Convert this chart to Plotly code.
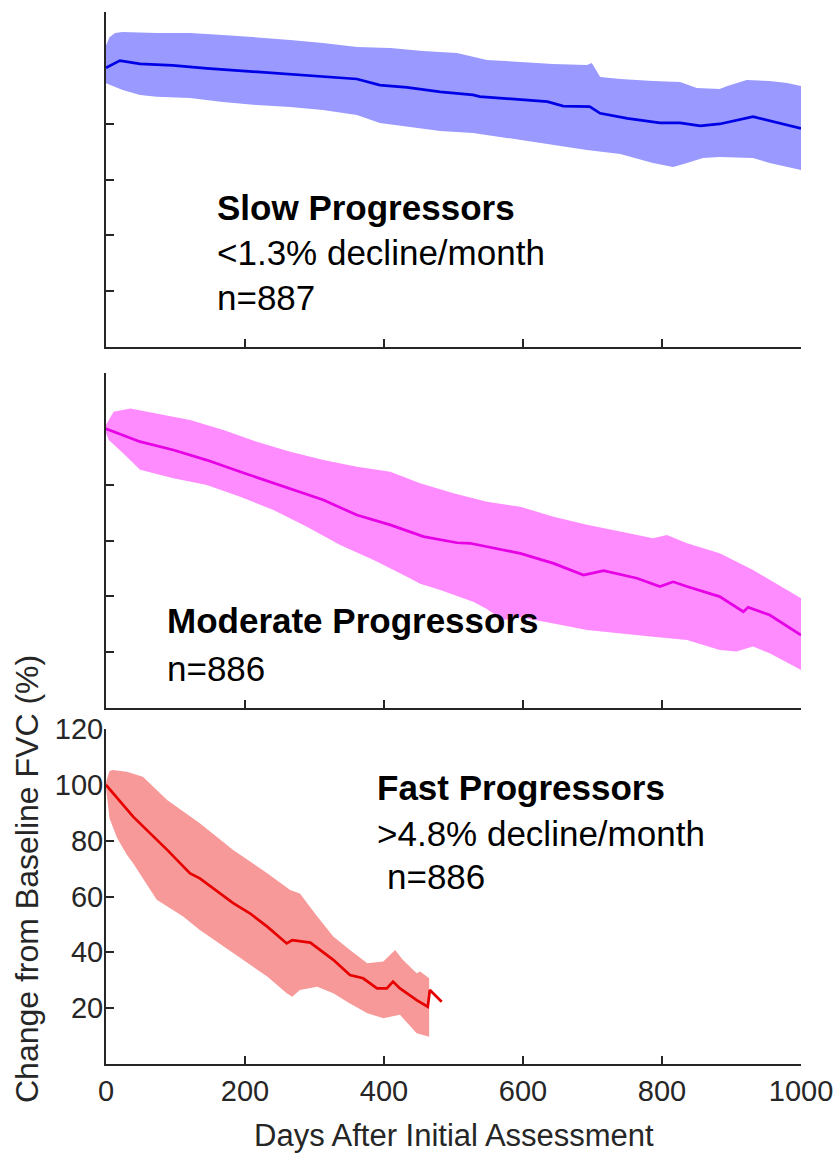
import plotly.graph_objects as go

# ---- axis ticks -------------------------------------------------------------
DAY_TICKS = [0, 200, 400, 600, 800, 1000]
FVC_TICKS = [20, 40, 60, 80, 100, 120]

# ---- Slow progressors (n=887): mean and spread of % baseline FVC ---------------
slow_mean_days = [0, 20, 49, 96, 145, 193, 240, 289, 361, 394, 433, 481, 528, 538,
                  596, 635, 658, 696, 711, 750, 797, 826, 855, 883, 931, 955, 1000]
slow_mean = [100.0, 102.6, 101.4, 100.9, 99.8, 98.9, 98.0, 97.1, 96.0, 93.8, 93.0,
             91.4, 90.3, 89.7, 88.5, 87.9, 86.3, 86.1, 83.7, 81.9, 80.3, 80.3, 79.2,
             79.9, 82.5, 81.1, 78.3]
slow_upper_days = [0, 5, 13, 24, 73, 121, 168, 217, 265, 312, 361, 409, 456, 505,
                   548, 596, 643, 692, 699, 711, 740, 787, 826, 850, 883, 894, 922,
                   955, 980, 1000]
slow_upper = [108.0, 111.0, 112.5, 112.8, 112.5, 112.5, 111.8, 111.0, 110.0, 108.9,
              107.5, 107.1, 106.0, 105.3, 102.8, 102.1, 101.4, 101.0, 101.7, 96.7,
              96.0, 95.3, 94.9, 92.8, 92.4, 93.5, 95.6, 95.3, 94.6, 93.5]
slow_lower_days = [0, 24, 49, 73, 121, 168, 217, 265, 312, 361, 394, 433, 481, 528,
                   548, 596, 643, 692, 740, 787, 816, 836, 859, 883, 931, 955, 1000]
slow_lower = [94.5, 92.1, 90.3, 89.6, 89.2, 87.8, 86.7, 86.0, 84.9, 83.1, 80.2, 78.8,
              77.4, 76.7, 75.9, 74.1, 72.4, 70.6, 69.1, 65.9, 64.5, 65.9, 67.7, 68.1,
              67.7, 65.9, 63.4]

# ---- Moderate progressors (n=886) ------------------------------------------------
mod_mean_days = [0, 49, 97, 145, 193, 241, 274, 313, 361, 409, 457, 505, 524, 596,
                 644, 687, 716, 764, 797, 816, 836, 883, 917, 924, 955, 1000]
mod_mean = [100.0, 95.4, 92.4, 88.8, 84.6, 80.5, 77.8, 74.5, 69.1, 65.6, 61.4, 59.2,
            59.0, 55.4, 51.8, 47.6, 49.2, 46.5, 43.5, 45.2, 43.5, 39.9, 34.5, 36.1,
            33.3, 26.1]
mod_upper_days = [0, 11, 35, 73, 121, 169, 217, 265, 313, 361, 409, 452, 500, 548,
                  596, 644, 692, 740, 787, 807, 836, 883, 931, 980, 1000]
mod_upper = [101.5, 106.1, 107.3, 105.6, 103.2, 99.6, 95.4, 91.8, 88.8, 86.4, 84.6,
             80.5, 76.9, 73.9, 72.1, 68.5, 65.6, 63.2, 60.8, 62.0, 59.0, 55.4, 49.4,
             42.3, 39.3]
mod_lower_days = [0, 4, 25, 49, 97, 145, 193, 241, 289, 337, 385, 433, 452, 481, 500,
                  529, 548, 571, 596, 644, 692, 740, 787, 836, 883, 907, 931, 955, 1000]
mod_lower = [98.5, 96.0, 91.2, 85.3, 82.3, 79.9, 75.7, 70.9, 64.9, 58.4, 53.0, 47.0,
             44.5, 42.3, 40.5, 38.0, 35.5, 31.5, 32.5, 30.3, 27.9, 26.8, 25.5, 24.4,
             20.8, 20.2, 22.0, 19.6, 13.6]

# ---- Fast progressors (n=886) ------------------------------------------------------
fast_mean_days = [0, 39, 88, 121, 135, 183, 207, 232, 260, 268, 294, 327, 351, 370,
                  390, 404, 413, 423, 447, 463, 466, 483]
fast_mean = [100.0, 88.6, 76.7, 68.3, 66.5, 57.6, 54.0, 49.2, 43.2, 44.4, 43.5, 37.3,
             31.9, 30.7, 27.1, 27.1, 29.5, 27.1, 22.9, 20.5, 26.5, 22.3]
fast_upper_days = [0, 5, 10, 30, 53, 88, 135, 183, 232, 265, 279, 304, 327, 351, 376,
                   399, 416, 427, 447, 452, 465]
fast_upper = [101.0, 105.0, 105.3, 104.7, 102.9, 94.6, 86.2, 76.7, 68.3, 62.3, 61.1,
              52.8, 45.7, 40.8, 36.1, 36.7, 40.8, 37.3, 32.5, 33.1, 30.7]
fast_lower_days = [0, 5, 16, 30, 39, 73, 111, 135, 183, 232, 260, 268, 279, 304, 327,
                   351, 376, 399, 423, 447, 465]
fast_lower = [99.0, 88.0, 81.0, 75.0, 71.9, 58.8, 52.8, 48.0, 39.7, 31.3, 25.3, 24.1,
              26.5, 27.7, 25.3, 21.7, 18.2, 16.4, 17.6, 11.0, 9.8]

# ---- styling ----------------------------------------------------------------------
FONT = "Arial, 'Liberation Sans', Helvetica, sans-serif"
AXIS_COLOR = "#262626"
W, H = 837, 1159

X_DOMAIN = [106 / W, 801 / W]
Y_DOMAINS = [
    [1 - 347 / H, 1 - 12 / H],     # top panel
    [1 - 708 / H, 1 - 373 / H],    # middle panel
    [1 - 1064 / H, 1 - 729 / H],   # bottom panel
]

panels = [
    dict(md=slow_mean_days, m=slow_mean, ud=slow_upper_days, u=slow_upper,
         ld=slow_lower_days, l=slow_lower, line="#0000E6", band="#9999FF"),
    dict(md=mod_mean_days, m=mod_mean, ud=mod_upper_days, u=mod_upper,
         ld=mod_lower_days, l=mod_lower, line="#E600E6", band="#FF8CFF"),
    dict(md=fast_mean_days, m=fast_mean, ud=fast_upper_days, u=fast_upper,
         ld=fast_lower_days, l=fast_lower, line="#E60000", band="#F89999"),
]

fig = go.Figure()
for i, p in enumerate(panels, start=1):
    xa = "x" if i == 1 else f"x{i}"
    ya = "y" if i == 1 else f"y{i}"
    # shaded spread: upper edge left-to-right, lower edge back right-to-left
    fig.add_trace(go.Scatter(
        x=p["ud"] + p["ld"][::-1], y=p["u"] + p["l"][::-1],
        fill="toself", fillcolor=p["band"], line=dict(width=0),
        mode="lines", hoverinfo="skip", showlegend=False, xaxis=xa, yaxis=ya))
    fig.add_trace(go.Scatter(
        x=p["md"], y=p["m"], mode="lines", line=dict(color=p["line"], width=2.7),
        showlegend=False, xaxis=xa, yaxis=ya))

axis_common = dict(showline=True, linecolor=AXIS_COLOR, linewidth=2, ticks="inside",
                   ticklen=8, tickwidth=2, tickcolor=AXIS_COLOR, showgrid=False,
                   zeroline=False, mirror=False, layer="below traces",
                   automargin=False,
                   tickfont=dict(family=FONT, size=29, color=AXIS_COLOR))

layout = dict(width=W, height=H,
              margin=dict(l=0, r=0, t=0, b=0, pad=0, autoexpand=False),
              paper_bgcolor="white", plot_bgcolor="white", showlegend=False)
for i in range(1, 4):
    xk = "xaxis" if i == 1 else f"xaxis{i}"
    yk = "yaxis" if i == 1 else f"yaxis{i}"
    xa = "x" if i == 1 else f"x{i}"
    ya = "y" if i == 1 else f"y{i}"
    last = i == 3
    layout[xk] = dict(axis_common, domain=X_DOMAIN, range=[0, 1000], anchor=ya,
                      tickvals=DAY_TICKS if last else DAY_TICKS[1:],
                      showticklabels=last)
    layout[yk] = dict(axis_common, domain=Y_DOMAINS[i - 1], range=[0, 120], anchor=xa,
                      tickvals=FVC_TICKS, showticklabels=last,
                      ticklabelstandoff=-5)
fig.update_layout(**layout)

# ---- group labels ---------------------------------------------------------------------
def label(text, x, y, xref, yref, bold=False, size=35):
    fig.add_annotation(text=f"<b>{text}</b>" if bold else text, x=x, y=y,
                       xref=xref, yref=yref, xanchor="left", yanchor="middle",
                       showarrow=False, font=dict(family=FONT, size=size, color="black"))

label("Slow Progressors", 157, 50.1, "x", "y", bold=True)
label("&lt;1.3% decline/month", 157, 34.0, "x", "y")
label("n=887", 157, 17.9, "x", "y")

label("Moderate Progressors", 85, 31.5, "x2", "y2", bold=True)
label("n=886", 85, 14.3, "x2", "y2")

label("Fast Progressors", 387, 98.9, "x3", "y3", bold=True)
label("&gt;4.8% decline/month", 387, 82.4, "x3", "y3")
label("n=886", 401, 67.0, "x3", "y3")

# ---- axis titles ------------------------------------------------------------------------
fig.add_annotation(text="Days After Initial Assessment", x=500, xref="x3",
                   y=1 - 1135 / H, yref="paper", xanchor="center", yanchor="middle",
                   showarrow=False, font=dict(family=FONT, size=31, color=AXIS_COLOR))
fig.add_annotation(text="Change from Baseline FVC (%)", textangle=-90,
                   x=27 / W, xref="paper", y=1 - 879 / H, yref="paper",
                   xanchor="center", yanchor="middle", showarrow=False,
                   font=dict(family=FONT, size=32, color=AXIS_COLOR))

fig.write_html("out.html")
